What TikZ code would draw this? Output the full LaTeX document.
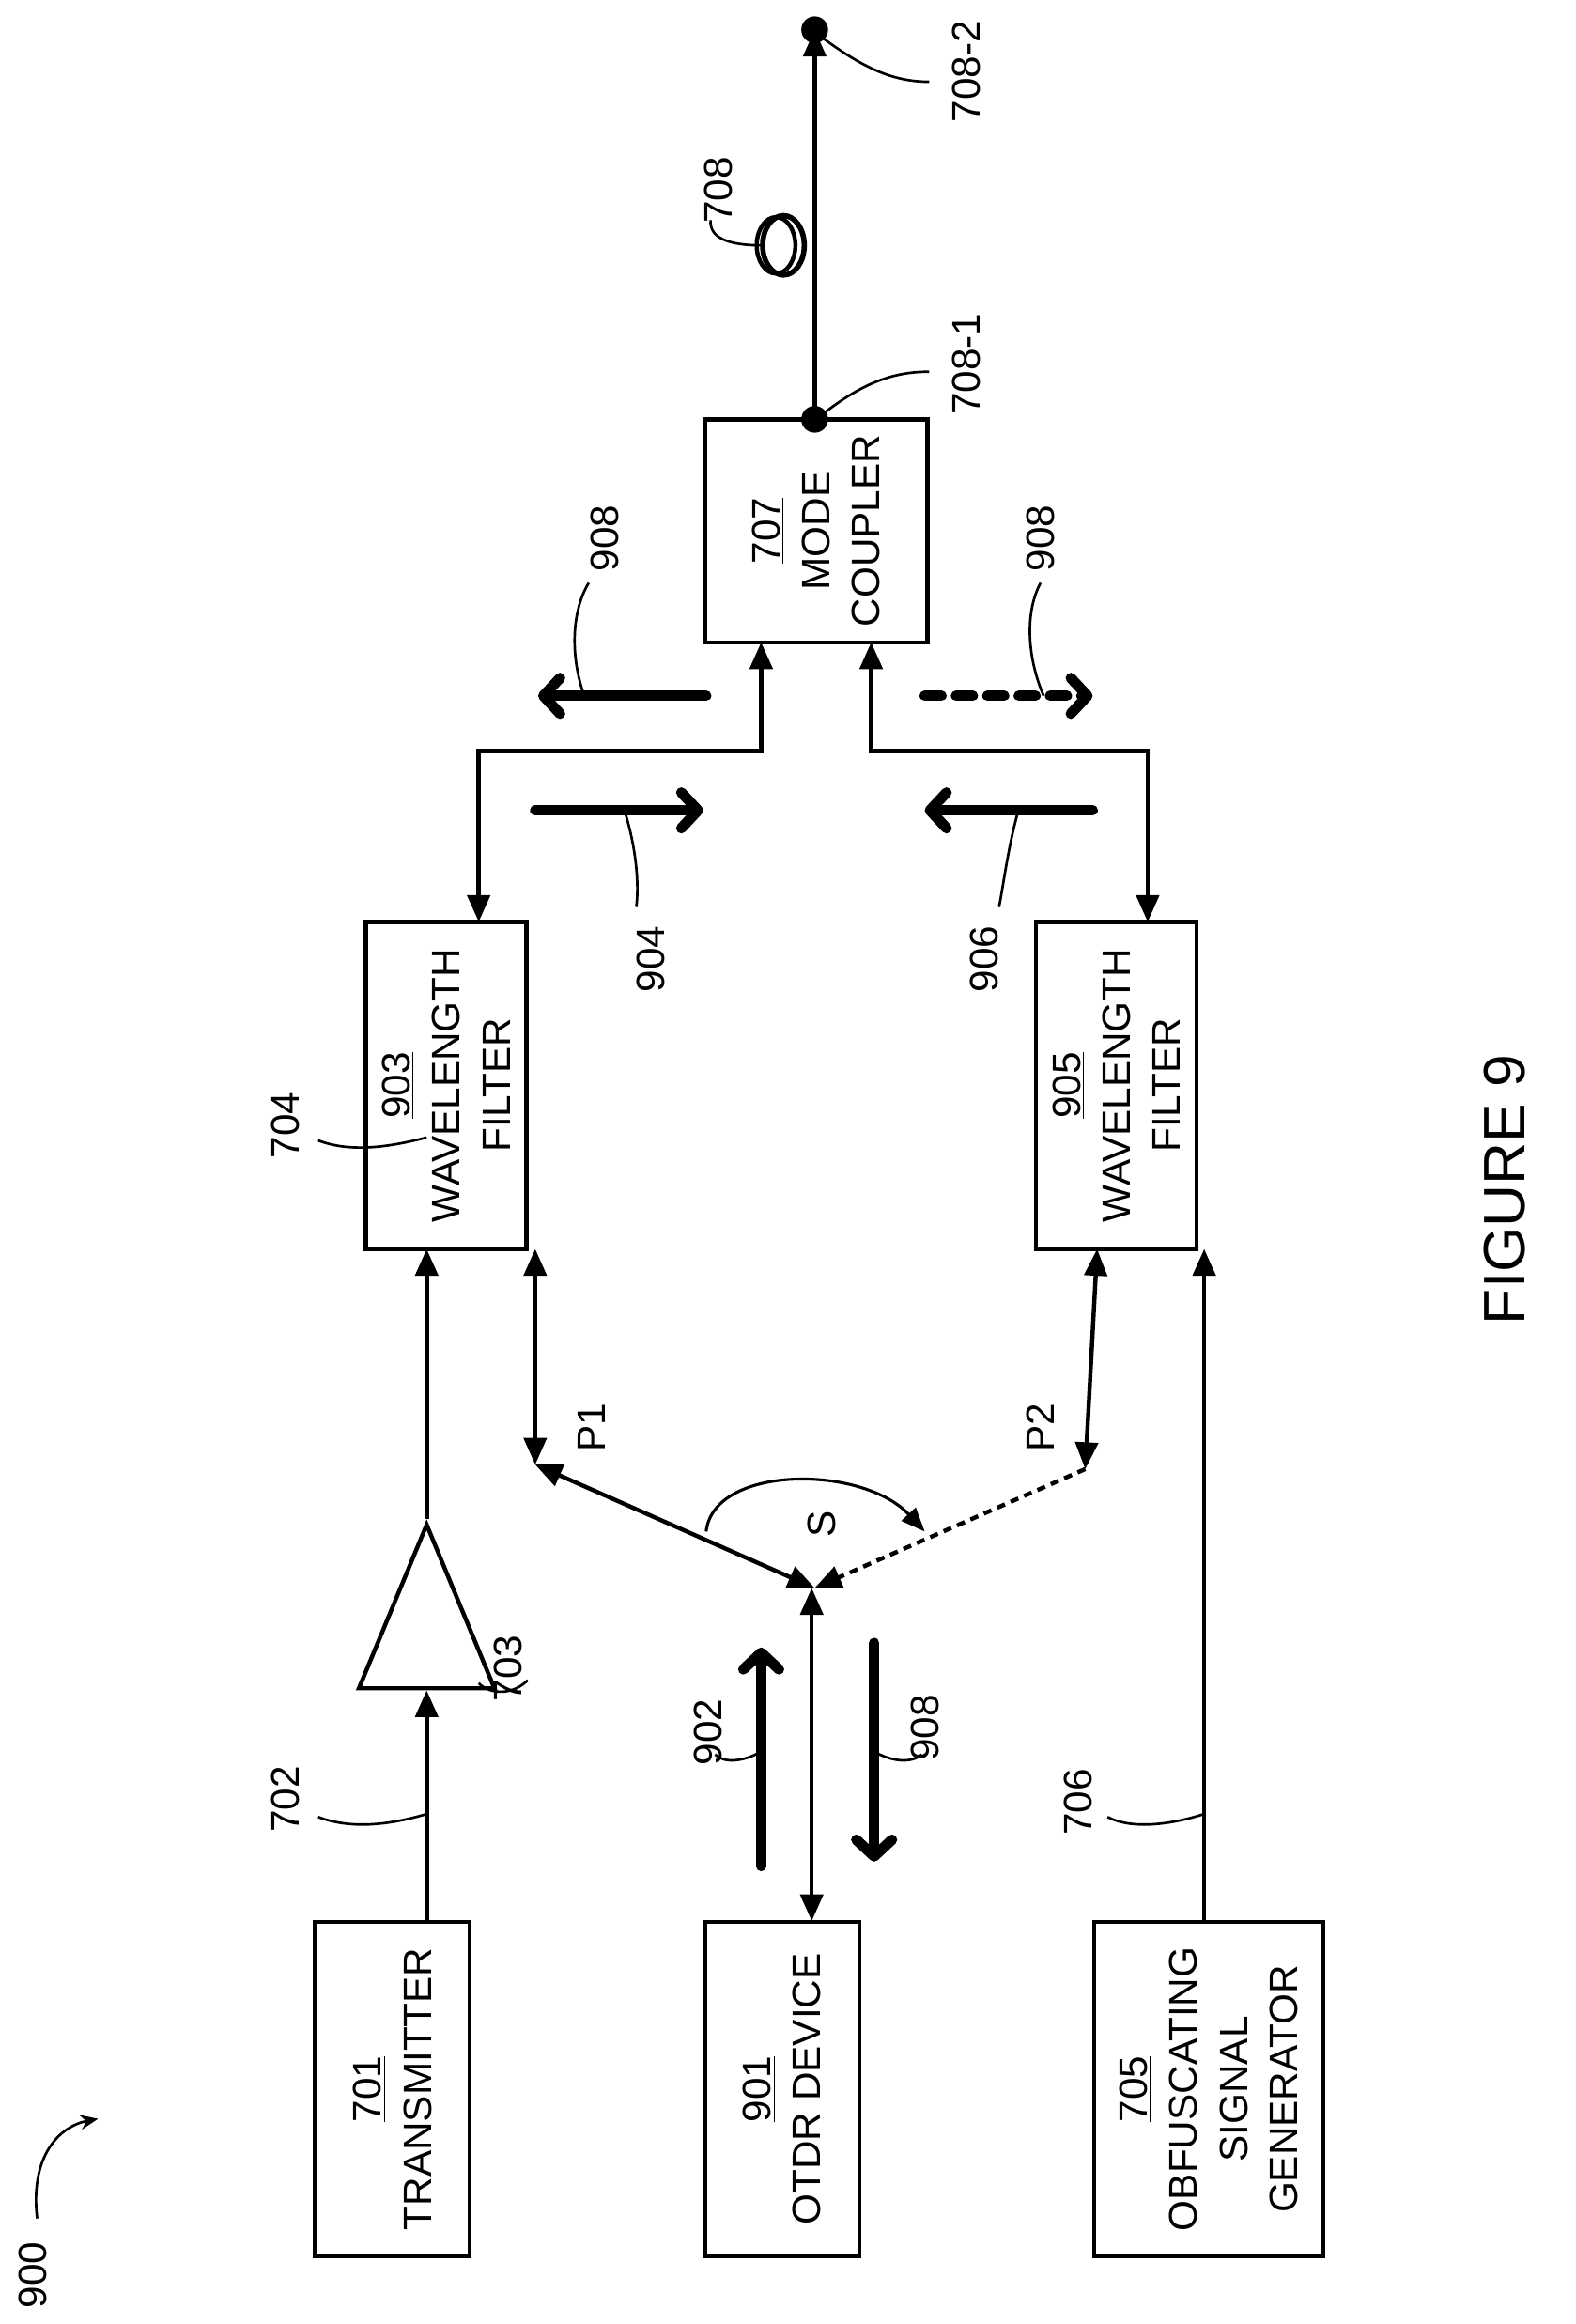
\documentclass[tikz,border=0pt]{standalone}
\usepackage{fontspec}
\setmainfont{Liberation Sans}
\usetikzlibrary{arrows.meta,shapes.geometric,calc}
\begin{document}
\begin{tikzpicture}[x=0.025cm,y=-0.025cm,
  box/.style={draw,line width=2pt,inner sep=0pt,rotate=90,align=center,font=\fontsize{19}{24}\selectfont},
  ln/.style={line width=2pt},
  tip/.style={-{Triangle[length=0.45cm,width=0.38cm]}},
  btip/.style={{Triangle[length=0.45cm,width=0.38cm]}-{Triangle[length=0.45cm,width=0.38cm]}},
  fat/.style={line width=5pt,line cap=round,-{Straight Barb[length=0.28cm,width=0.6cm,line cap=round,line join=round]}},
  lead/.style={line width=1.2pt},
  lab/.style={rotate=90,font=\fontsize{19}{24}\selectfont,inner sep=1pt}]
\useasboundingbox (0,0) rectangle (1060,1563);
% boxes
\node[box,minimum width=225*0.025cm,minimum height=104*0.025cm] (b701) at (264,1405) {\underline{701}\\TRANSMITTER};
\node[box,minimum width=225*0.025cm,minimum height=104*0.025cm] (b901) at (526,1405) {\underline{901}\\OTDR DEVICE};
\node[box,minimum width=225*0.025cm,minimum height=154*0.025cm] (b705) at (813,1405) {\underline{705}\\OBFUSCATING\\SIGNAL\\GENERATOR};
\node[box,minimum width=220*0.025cm,minimum height=108*0.025cm] (b903) at (300,730) {\underline{903}\\WAVELENGTH\\FILTER};
\node[box,minimum width=220*0.025cm,minimum height=108*0.025cm] (b905) at (751,730) {\underline{905}\\WAVELENGTH\\FILTER};
\node[box,minimum width=150*0.025cm,minimum height=150*0.025cm] (b707) at (549,357) {\underline{707}\\MODE\\COUPLER};
% amplifier
\node[draw,isosceles triangle,isosceles triangle apex angle=45,shape border rotate=90,line width=2pt,minimum height=110*0.025cm,inner sep=0pt] (amp) at (287,1105) {};
% coordinates
\coordinate (t1) at (287,1292);
\coordinate (p1top) at (360,840);
\coordinate (p1) at (360,985);
\coordinate (s) at (548,1068);
\coordinate (p2top) at (738,840);
\coordinate (p2) at (730,988);
\coordinate (o1) at (546,1068);
\coordinate (o2) at (546,1292);
% main lines
\draw[ln,tip] (t1) -- (amp.south);
\draw[ln,tip] (amp.apex) -- (287,840);
\draw[ln,btip] (p1top) -- (p1);
\draw[ln,btip] (p1) -- (s);
\draw[ln,btip] (p2top) -- (p2);
\draw[ln,dash pattern=on 4pt off 3pt,-{Triangle[length=0.45cm,width=0.38cm]}] (p2) -- (s);
\draw[ln,btip] (o1) -- (o2);
\draw[ln,tip] (810,1292) -- (810,840);
\draw[ln,btip] (322,620) -- (322,505) -- (512,505) -- (512,432);
\draw[ln,btip] (772,620) -- (772,505) -- (586,505) -- (586,432);
\draw[ln,-{Triangle[length=0.45cm,width=0.38cm]}] (548,282) -- (548,20);
\fill (548,282) circle (9*0.025cm);
\fill (548,20) circle (9*0.025cm);
% coil
\draw[line width=2.5pt] (527,165) ellipse (14*0.025cm and 20*0.025cm);
\draw[line width=2pt] (522,165) ellipse (13*0.025cm and 19*0.025cm);
% fat arrows
\draw[fat] (512,1255) -- (512,1108);
\draw[fat] (588,1105) -- (588,1252);
\draw[fat] (475,468) -- (362,468);
\draw[fat] (360,545) -- (473,545);
\draw[fat] (735,545) -- (622,545);
\draw[fat,dash pattern=on 8pt off 7pt] (622,468) -- (735,468);
% rotate arrow
\draw[lead,line width=1.4pt,-{Triangle[length=0.4cm,width=0.32cm]}] (475,1030) .. controls (480,985) and (580,985) .. (622,1030);
% labels
\node[lab] (l702) at (192,1210) {702};
\draw[lead] (287,1220) .. controls (260,1228) and (235,1230) .. (214,1222);
\node[lab] (l703) at (342,1122) {703};
\draw[lead] (322,1132) .. controls (330,1140) and (345,1140) .. (355,1130);
\node[lab] (l704) at (192,757) {704};
\draw[lead] (287,765) .. controls (260,772) and (235,775) .. (214,767);
\node[lab] (lp1) at (398,960) {P1};
\node[lab] (lp2) at (700,960) {P2};
\node[lab] (ls) at (553,1025) {S};
\node[lab] (l902) at (476,1165) {902};
\draw[lead] (512,1178) .. controls (500,1185) and (487,1186) .. (481,1180);
\node[lab] (l908a) at (622,1162) {908};
\draw[lead] (588,1178) .. controls (600,1185) and (613,1186) .. (620,1180);
\node[lab] (l706) at (725,1212) {706};
\draw[lead] (810,1220) .. controls (785,1228) and (760,1230) .. (745,1222);
\node[lab] (l908b) at (407,362) {908};
\draw[lead] (393,468) .. controls (383,440) and (385,410) .. (396,392);
\node[lab] (l904) at (438,645) {904};
\draw[lead] (420,545) .. controls (428,570) and (430,595) .. (428,610);
\node[lab] (l906) at (662,645) {906};
\draw[lead] (685,545) .. controls (678,570) and (675,595) .. (672,610);
\node[lab] (l908c) at (700,362) {908};
\draw[lead] (702,468) .. controls (690,440) and (690,410) .. (700,392);
\node[lab] (l708) at (483,128) {708};
\draw[lead] (512,165) .. controls (490,165) and (477,160) .. (478,148);
\node[lab] (l7081) at (650,245) {708-1};
\draw[lead] (554,278) .. controls (580,258) and (600,250) .. (625,250);
\node[lab] (l7082) at (650,48) {708-2};
\draw[lead] (554,26) .. controls (580,45) and (600,55) .. (625,55);
\node[rotate=90,font=\fontsize{28}{34}\selectfont] (fig) at (1012,800) {FIGURE 9};
\node[lab] (l900) at (22,1530) {900};
\draw[lead,-{Stealth[length=0.3cm,width=0.25cm]}] (25,1492) .. controls (20,1450) and (40,1430) .. (66,1425);
\end{tikzpicture}
\end{document}
